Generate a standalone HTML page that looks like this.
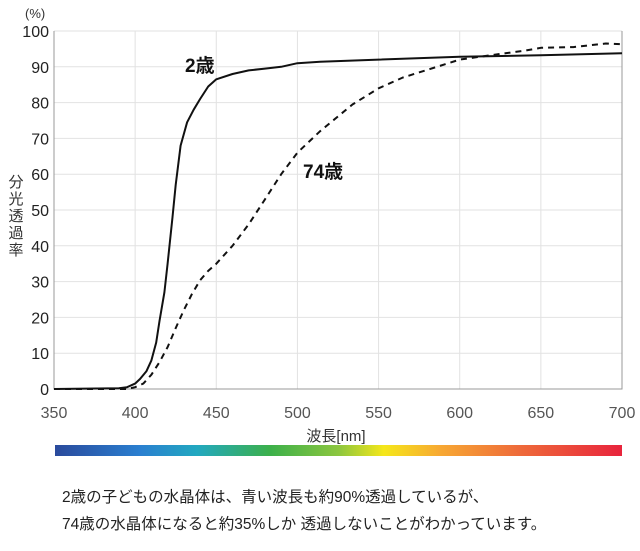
<!DOCTYPE html>
<html><head><meta charset="utf-8"><style>
body{margin:0;background:#fff;}
svg text{font-family:"Liberation Sans","Noto Sans CJK JP",sans-serif;}
</style></head><body>
<svg width="640" height="546" viewBox="0 0 640 546">
<defs>
<linearGradient id="spec" x1="0" x2="1" y1="0" y2="0">
<stop offset="0" stop-color="#2a4a9c"/><stop offset="0.15" stop-color="#2a7fd0"/><stop offset="0.25" stop-color="#22a8c0"/><stop offset="0.38" stop-color="#3cb04a"/><stop offset="0.5" stop-color="#8cc63f"/><stop offset="0.58" stop-color="#f5e71a"/><stop offset="0.68" stop-color="#f7a833"/><stop offset="0.82" stop-color="#ee6a3a"/><stop offset="1" stop-color="#e8243c"/>
</linearGradient>
</defs>
<g id="grid"></g>
<g id="axes"></g>
<g id="series"></g>
<text x="25" y="18" font-size="13" fill="#333">(%)</text>
<text x="16" y="187" font-size="15" fill="#333" text-anchor="middle"><tspan x="16" dy="0">分</tspan><tspan x="16" dy="17">光</tspan><tspan x="16" dy="17">透</tspan><tspan x="16" dy="17">過</tspan><tspan x="16" dy="17">率</tspan></text>
<text x="336" y="441" font-size="15" fill="#333" text-anchor="middle">波長[nm]</text>
<text x="185" y="72" font-size="19" font-weight="bold" fill="#111">2歳</text>
<text x="303" y="178" font-size="19" font-weight="bold" fill="#111">74歳</text>
<rect x="55" y="445" width="567" height="11" fill="url(#spec)"/>
<text x="62" y="502" font-size="15.5" fill="#222">2歳の子どもの水晶体は、青い波長も約90%透過しているが、</text>
<text x="62" y="529" font-size="15.5" fill="#222">74歳の水晶体になると約35%しか 透過しないことがわかっています。</text>
</svg>
<script>
const xTicks=[350,400,450,500,550,600,650,700];
const yTicks=[0,10,20,30,40,50,60,70,80,90,100];
const wl2=[350,390,395,400,403,407,410,413,415,418,420,423,425,428,432,436,440,445,450,460,470,480,490,500,514,550,600,650,700];
const t2=[0,0.2,0.5,1.5,2.8,5,8,13,19,27,35,48,57,68,74.5,78,81,84.5,86.5,88,89,89.5,90,91,91.4,92,92.8,93.2,93.8];
const wl74=[350,395,400,405,410,415,420,425,430,435,440,445,450,460,470,480,490,500,514,534,550,565,586,600,620,640,650,670,690,700];
const t74=[0,0,0.5,1.5,4,7.5,11.7,17,22,26.5,30.4,33,35,40,46,53,60,66,72,79.5,84,87,90,92,93.3,94.5,95.3,95.5,96.5,96.3];
const NS='http://www.w3.org/2000/svg';
const X0=54,X1=622,Y0=389,Y1=31;
const sx=v=>X0+(v-350)/350*(X1-X0);
const sy=v=>Y0-v/100*(Y0-Y1);
function mk(tag,attrs,parent){const e=document.createElementNS(NS,tag);for(const k in attrs)e.setAttribute(k,attrs[k]);parent.appendChild(e);return e;}
const grid=document.getElementById('grid'),axes=document.getElementById('axes'),series=document.getElementById('series');
xTicks.forEach(t=>{
  const l=mk('line',{x1:sx(t),x2:sx(t),y1:Y1,y2:Y0,stroke:'#e2e2e2','stroke-width':1},grid);
  
  
  const tx=mk('text',{x:sx(t),y:418,'font-size':16,fill:'#555','text-anchor':'middle'},axes);
  tx.textContent=t;
  
  
});
yTicks.forEach(t=>{
  const l=mk('line',{x1:X0,x2:X1,y1:sy(t),y2:sy(t),stroke:'#e2e2e2','stroke-width':1},grid);
  
  
  const tx=mk('text',{x:49,y:sy(t)+6,'font-size':16,fill:'#222','text-anchor':'end'},axes);
  tx.textContent=t;
  
  
});
const ax=mk('path',{d:`M${X0},${Y1}V${Y0}H${X1}V${Y1}`,fill:'none',stroke:'#999','stroke-width':1},axes);


function line(xs,ys,dash,name){
  const d=xs.map((x,i)=>(i?'L':'M')+sx(x).toFixed(1)+','+sy(ys[i]).toFixed(1)).join('');
  const p=mk('path',{d:d,fill:'none',stroke:'#111','stroke-width':2,'stroke-linejoin':'round'},series);
  if(dash)p.setAttribute('stroke-dasharray',dash);
  
  
}
line(wl2,t2,null,'line-2-years');
line(wl74,t74,'6,5','line-74-years');
</script>
</body></html>
